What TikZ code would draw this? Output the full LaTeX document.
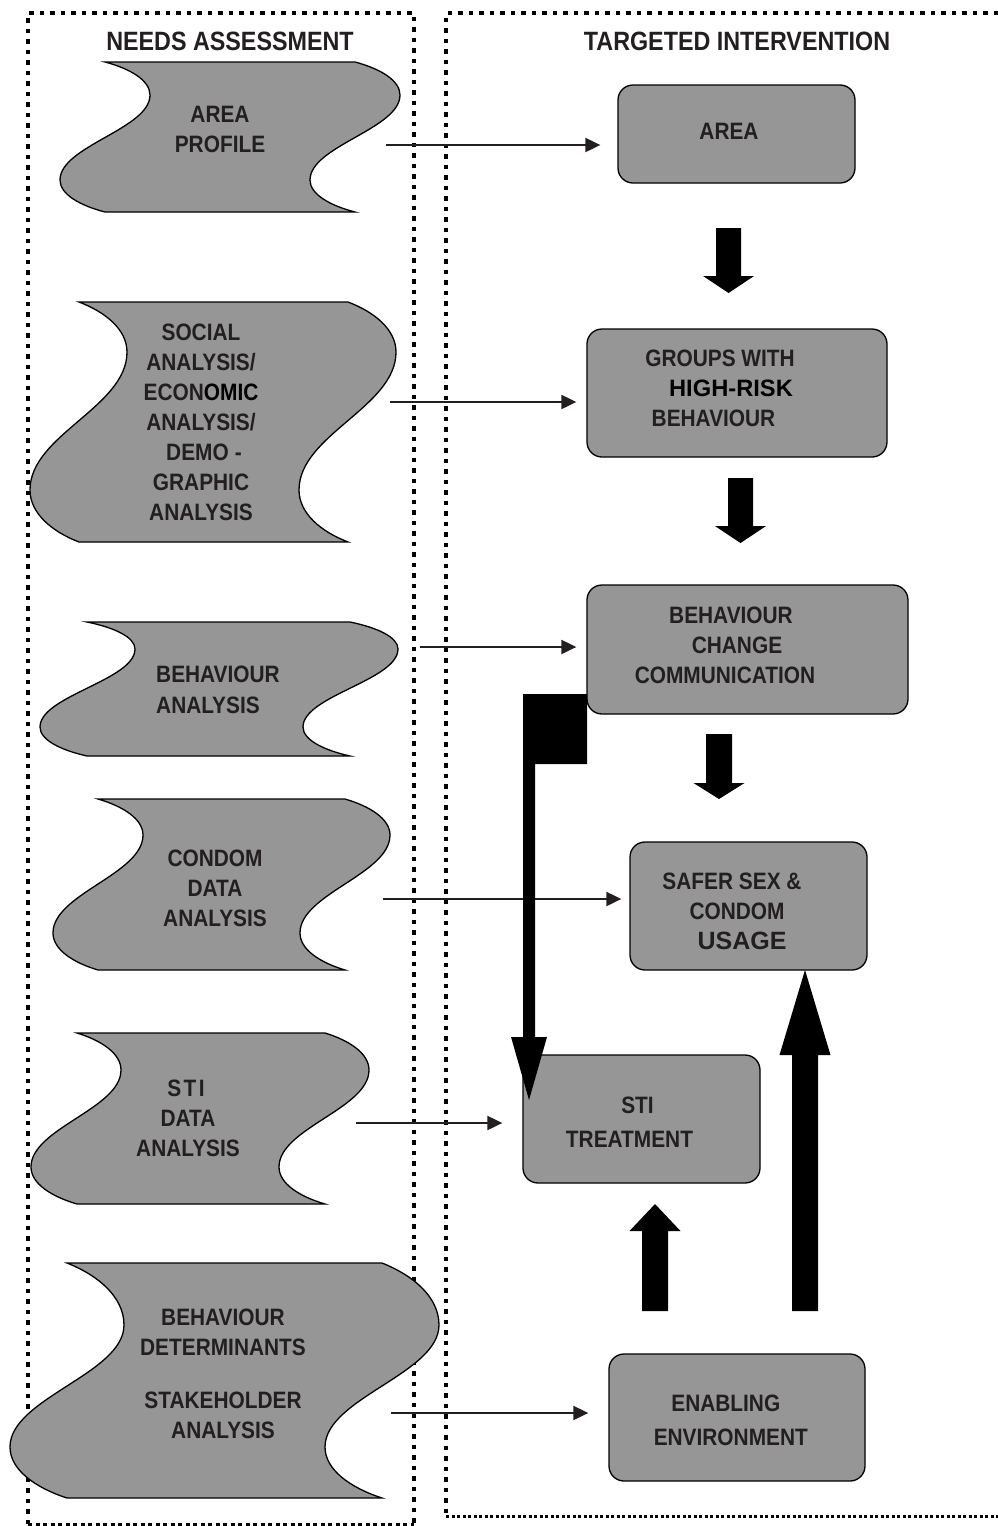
\documentclass[tikz,border=0pt]{standalone}
\usepackage{fontspec}
\setmainfont{Liberation Sans}
\newfontfamily\cond[FakeStretch=0.88]{Liberation Sans}
\newfontfamily\wide{Liberation Sans}
\usetikzlibrary{arrows.meta,calc}
\definecolor{boxfill}{RGB}{150,150,150}
\definecolor{txtc}{RGB}{35,31,32}
% wave (tape) outline: xa, top, bottom, shift, inner dx, inner y, outer dx, outer y
\newcommand{\wavepath}[8]{%
 ({#1},{#2}) .. controls ({#1+0.55*(#5)},{#2+0.2*(#6-#2)}) and ({#1+(#5)},{#6-0.45*(#6-#2)}) .. ({#1+(#5)},{#6})
 .. controls ({#1+(#5)},{#6+0.4*(#8-#6)}) and ({#1+(#7)},{#8-0.4*(#8-#6)}) .. ({#1+(#7)},{#8})
 .. controls ({#1+(#7)},{#8+0.45*(#3-#8)}) and ({#1+0.55*(#7)},{#3-0.2*(#3-#8)}) .. ({#1},{#3})
 -- ({#1+#4},{#3})
 .. controls ({#1+#4+0.55*(#7)},{#3-0.2*(#3-#8)}) and ({#1+#4+(#7)},{#8+0.45*(#3-#8)}) .. ({#1+#4+(#7)},{#8})
 .. controls ({#1+#4+(#7)},{#8-0.4*(#8-#6)}) and ({#1+#4+(#5)},{#6+0.4*(#8-#6)}) .. ({#1+#4+(#5)},{#6})
 .. controls ({#1+#4+(#5)},{#6-0.45*(#6-#2)}) and ({#1+#4+0.55*(#5)},{#2+0.2*(#6-#2)}) .. ({#1+#4},{#2})
 -- cycle}
% block arrow: cx, shaft end y, head base y, tip y, half shaft, half head
\newcommand{\blockarrow}[6]{\fill[black] ({#1-#5},{#2}) -- ({#1+#5},{#2}) -- ({#1+#5},{#3}) -- ({#1+#6},{#3}) -- ({#1},{#4}) -- ({#1-#6},{#3}) -- ({#1-#5},{#3}) -- cycle;}
\begin{document}
\begin{tikzpicture}[x=1pt,y=-1pt,
  lbl/.style={font={\cond\bfseries\fontsize{23.7}{30}\selectfont}, text=txtc, align=center, inner sep=0pt},
  ttl/.style={font={\cond\bfseries\fontsize{26.5}{30}\selectfont}, text=txtc, inner sep=0pt},
  wavebox/.style={fill=boxfill, draw=black, line width=1.3pt},
  rbox/.style={fill=boxfill, draw=black, line width=1.3pt, rounded corners=15pt, inner sep=0pt},
  thinarr/.style={line width=2pt, draw=txtc, -{Triangle[length=15pt,width=14pt]}},
  dotv/.style={line width=4.5pt, dash pattern=on 4.5pt off 6pt, black},
  dotbl/.style={line width=3pt, dash pattern=on 4pt off 3.5pt, black},
  dotbr/.style={line width=3pt, dash pattern=on 3pt off 2.5pt, black}
]
\useasboundingbox (0,0) rectangle (998,1526);
\fill[white] (0,0) rectangle (998,1526);

% dotted frames
\draw[dotv] (28,1524) -- (28,13) -- (414,13) -- (414,1524);
\draw[dotbl] (28,1524) -- (414,1524);
\draw[dotv] (998,13) -- (446,13) -- (446,1516);
\draw[dotbr] (446,1516) -- (998,1516);

% titles
\node[ttl] (t1) at (230,41) {NEEDS ASSESSMENT};
\node[ttl] (t2) at (737,41) {TARGETED INTERVENTION};

% needs assessment shapes
\filldraw[wavebox] \wavepath{105}{62}{212}{250}{45}{95}{-45}{180};
\node[lbl] (w1) at (220,129.5) {AREA\\PROFILE};

\filldraw[wavebox] \wavepath{79}{302}{542}{269}{48}{352}{-49}{490};
\node[lbl] (w2) at (201,422) {SOCIAL\\ANALYSIS/\\ECON\textcolor{black}{OMIC}\\ANALYSIS/\\\hspace*{6pt}DEMO\kern6pt-\\GRAPHIC\\ANALYSIS};

\filldraw[wavebox] \wavepath{87}{622}{756}{263}{48}{649}{-47}{727};
\node[lbl, align=left, anchor=west] (w3) at (156,689.5) {BEHAVIOUR\\[1pt]ANALYSIS};

\filldraw[wavebox] \wavepath{98}{799}{970}{247}{45}{835}{-45}{933};
\node[lbl] (w4) at (215,888) {CONDOM\\DATA\\ANALYSIS};

\filldraw[wavebox] \wavepath{77}{1033}{1204}{248}{44}{1070}{-46}{1167};
\node[lbl] (w5) at (188,1118) {{\addfontfeature{LetterSpace=10}STI}\hspace*{4pt}\\DATA\hspace*{8pt}\\ANALYSIS};

\filldraw[wavebox] \wavepath{67}{1263}{1498}{315}{57}{1325}{-57}{1447};
\node[lbl] (w6) at (223,1374) {BEHAVIOUR\\DETERMINANTS\\[23pt]STAKEHOLDER\\ANALYSIS};

% intervention boxes
\node[rbox, minimum width=237pt, minimum height=98pt] (area) at (736.5,134) {};
\node[lbl] (areat) at (729,131) {AREA};

\node[rbox, minimum width=300pt, minimum height=128pt] (groups) at (737,393) {};
\node[lbl] (groupst) at (720,388.5) {GROUPS WITH\\\hspace*{22pt}{\wide\bfseries\fontsize{23.7}{30}\selectfont\color{black}HIGH-RISK}\\BEHAVIOUR\hspace*{13pt}};

\node[rbox, minimum width=321pt, minimum height=129pt] (bcc) at (747.5,649.5) {};
\node[lbl] (bcct) at (731,645) {BEHAVIOUR\\\hspace*{12pt}CHANGE\\COMMUNICATION\hspace*{12pt}};

\node[rbox, minimum width=237pt, minimum height=128pt] (safer) at (748.5,906) {};
\node[lbl] (safert) at (737,911) {SAFER SEX \&\hspace*{10pt}\\CONDOM\\\hspace*{10pt}{\wide\bfseries\fontsize{25}{30}\selectfont USAGE}};

\node[rbox, minimum width=237pt, minimum height=128pt] (sti) at (641.5,1119) {};
\node[lbl] (stit) at (629.5,1122) {\hspace*{16pt}STI\\[4pt]TREATMENT};

\node[rbox, minimum width=256pt, minimum height=127pt] (enab) at (737,1417.5) {};
\node[lbl] (enabt) at (730.8,1420) {ENABLING\hspace*{10pt}\\[4pt]ENVIRONMENT};

% thin arrows
\coordinate (s1) at (386,145);
\coordinate (s2) at (390,402);
\coordinate (s3) at (420,647);
\coordinate (s4) at (383,899);
\coordinate (s5) at (356,1123);
\coordinate (s6) at (391,1413);
\draw[thinarr, shorten >=17pt] (s1) -- (s1 -| area.west);
\draw[thinarr, shorten >=10pt] (s2) -- (s2 -| groups.west);
\draw[thinarr, shorten >=10pt] (s3) -- (s3 -| bcc.west);
\draw[thinarr, shorten >=8pt] (s4) -- (s4 -| safer.west);
\draw[thinarr, shorten >=20pt] (s5) -- (s5 -| sti.west);
\draw[thinarr, shorten >=20pt] (s6) -- (s6 -| enab.west);

% block arrows
\blockarrow{728.5}{228}{276}{293}{12.5}{25.5}
\blockarrow{740.5}{478}{526}{543}{12.5}{25.5}
\blockarrow{719}{734}{783}{799}{13}{25.5}
\blockarrow{655}{1311}{1231}{1204}{13}{25.5}
\blockarrow{805}{1311}{1055}{970}{13}{25.5}
\fill[black] (523,694) -- (587,694) -- (587,764) -- (535,764) -- (535,1037) -- (547,1037) -- (529,1100) -- (511,1037) -- (523,1037) -- cycle;
\end{tikzpicture}
\end{document}
